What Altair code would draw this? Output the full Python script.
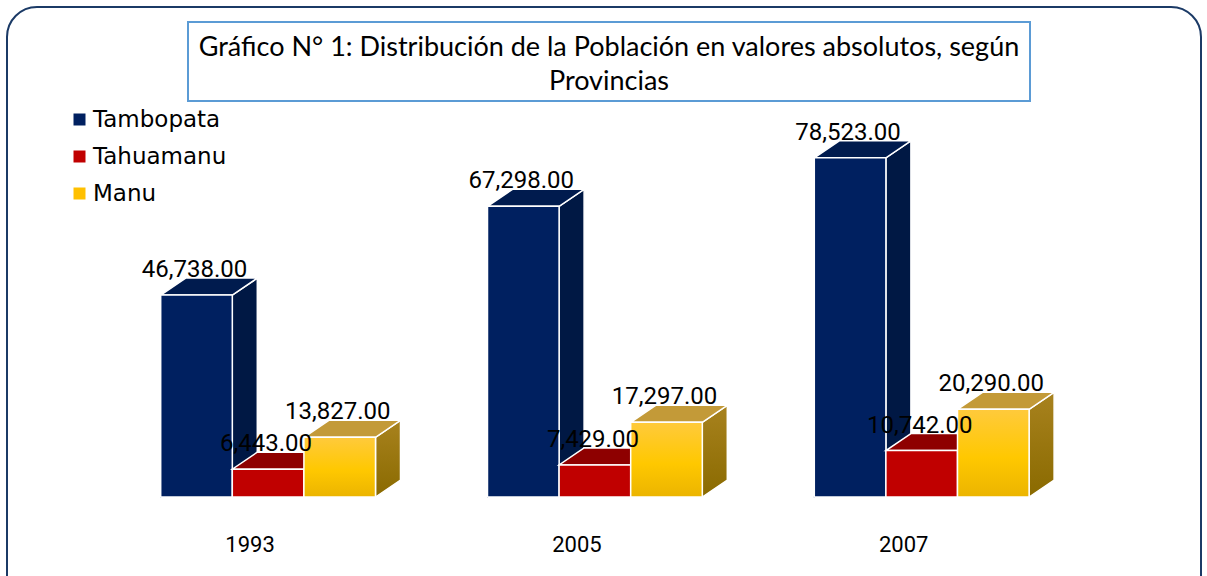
import altair as alt
import pandas as pd

# ---- data ----
years = ["1993", "2005", "2007"]
series = ["Tambopata", "Tahuamanu", "Manu"]
tambopata = [46738, 67298, 78523]
tahuamanu = [6443, 7429, 10742]
manu = [13827, 17297, 20290]
values = {"Tambopata": tambopata, "Tahuamanu": tahuamanu, "Manu": manu}

title_lines = ["Gráfico N° 1: Distribución de la Población en valores absolutos, según",
               "Provincias"]

# ---- geometry helpers (style) ----
W, H = 1193, 563
GROUP_PX = 326.8
BAR_PX = 71.6
PX_PER_UNIT = 0.00432
BASE = 490
DEPTH_X_PX, DEPTH_Y_PX = 25, 17

bw = BAR_PX / GROUP_PX
dxu = DEPTH_X_PX / GROUP_PX
dyu = DEPTH_Y_PX / PX_PER_UNIT

xscale = alt.Scale(domain=[0, 3], range=[97.7, 97.7 + 3 * GROUP_PX])
yscale = alt.Scale(domain=[0, 100000], range=[BASE, BASE - 100000 * PX_PER_UNIT])

front, side, top, labels, yearlab = [], [], [], [], []
for i, yr in enumerate(years):
    yearlab.append({"year": yr, "x": i + 0.5})
    for s, name in enumerate(series):
        v = values[name][i]
        xl = i + 0.5 - 1.5 * bw + s * bw
        xr = xl + bw
        bid = f"{name}-{yr}"
        front.append({"series": name, "id": bid, "x": xl, "x2": xr, "y": 0, "y2": v})
        side.append({"series": name, "id": bid, "x": xr, "y": 0, "y2": v})
        side.append({"series": name, "id": bid, "x": xr + dxu, "y": dyu, "y2": v + dyu})
        top.append({"series": name, "id": bid, "y": v, "x": xl, "x2": xr})
        top.append({"series": name, "id": bid, "y": v + dyu, "x": xl + dxu, "x2": xr + dxu})
        labels.append({"series": name, "x": (xl + xr) / 2, "y": v + dyu, "v": v})

front = pd.DataFrame(front)
side = pd.DataFrame(side)
top = pd.DataFrame(top)
labels = pd.DataFrame(labels)
yearlab = pd.DataFrame(yearlab)

def grad(c1, c2, c3=None):
    stops = [alt.GradientStop(color=c1, offset=0)]
    if c3:
        stops.append(alt.GradientStop(color=c2, offset=0.55))
        stops.append(alt.GradientStop(color=c3, offset=1))
    else:
        stops.append(alt.GradientStop(color=c2, offset=1))
    return alt.LinearGradient(gradient="linear", stops=stops, x1=0, x2=0, y1=0, y2=1)

styles = {
    "Tambopata": dict(front="#002060", side="#001844", top="#001b4e"),
    "Tahuamanu": dict(front="#c00000", side="#7a0000", top="#8e0000"),
    "Manu": dict(front=grad("#ffca3c", "#ffc800", "#ebb400"),
                 side=grad("#a8821e", "#8a6a00"),
                 top="#c39a38"),
}

X = lambda f="x": alt.X(f"{f}:Q", scale=xscale, axis=None)
Y = lambda f="y": alt.Y(f"{f}:Q", scale=yscale, axis=None, stack=False)

layers = []

# frame
frame = alt.Chart(pd.DataFrame({"a": [0]})).mark_rect(
    fill="white", stroke="#1b3a66", strokeWidth=2, cornerRadius=30
).encode(x=alt.value(0), x2=alt.value(1194), y=alt.value(0), y2=alt.value(600))
layers.append(frame)

# hidden layer that produces the legend
leg = alt.Chart(front).mark_square(size=1, opacity=1).encode(
    x=X(), y=Y(),
    color=alt.Color("series:N",
                    scale=alt.Scale(domain=series, range=["#002060", "#c00000", "#ffc000"]),
                    legend=alt.Legend(title=None, orient="none", legendX=61, legendY=101,
                                      symbolType="square", symbolSize=144, symbolStrokeWidth=0,
                                      labelFont="DejaVu Sans", labelFontSize=23,
                                      labelColor="#000000", labelOffset=2, rowPadding=13,
                                      padding=0, symbolOpacity=1)),
)
layers.append(leg)

for name in series:
    st = styles[name]
    sd = side[side.series == name]
    tp = top[top.series == name]
    fr = front[front.series == name]
    layers.append(alt.Chart(sd).mark_area(orient="vertical", fill=st["side"], stroke="white",
                                          strokeWidth=1.5, interpolate="linear")
                  .encode(x=X(), y=Y(), y2="y2:Q", detail="id:N"))
    layers.append(alt.Chart(tp).mark_area(orient="horizontal", fill=st["top"], stroke="white",
                                          strokeWidth=1.5, interpolate="linear")
                  .encode(y=Y(), x=X(), x2="x2:Q", detail="id:N"))
    layers.append(alt.Chart(fr).mark_bar(fill=st["front"], stroke="white", strokeWidth=1.5)
                  .encode(x=X(), x2="x2:Q", y=Y(), y2="y2:Q"))

vlabels = alt.Chart(labels).mark_text(font="Roboto", fontSize=24, color="black",
                                      baseline="alphabetic", align="center", dy=-1, dx=-2).encode(
    x=X(), y=Y(), text=alt.Text("v:Q", format=",.2f"))
layers.append(vlabels)

ylabels = alt.Chart(yearlab).mark_text(font="Roboto", fontSize=22, color="black",
                                       baseline="middle", align="center", dx=-18).encode(
    x=X(), y=alt.value(538), text="year:N")
layers.append(ylabels)

# title box
tbox = alt.Chart(pd.DataFrame({"a": [0]})).mark_rect(
    fill="white", stroke="#5b9bd5", strokeWidth=2
).encode(x=alt.value(181), x2=alt.value(1023), y=alt.value(15), y2=alt.value(94))
layers.append(tbox)
ttext = alt.Chart(pd.DataFrame({"a": [0]})).mark_text(
    text=title_lines, font="Lato", fontSize=27, lineHeight=34, color="black",
    align="center", baseline="middle"
).encode(x=alt.value(602), y=alt.value(41))
layers.append(ttext)

chart = alt.layer(*layers).properties(
    width=W, height=H, padding={"left": 7, "top": 7, "right": 7, "bottom": 6},
    autosize=alt.AutoSizeParams(type="none"), background="white"
).configure_view(strokeWidth=0)

chart.save("out.html", embed_options={"renderer": "svg", "actions": False})
